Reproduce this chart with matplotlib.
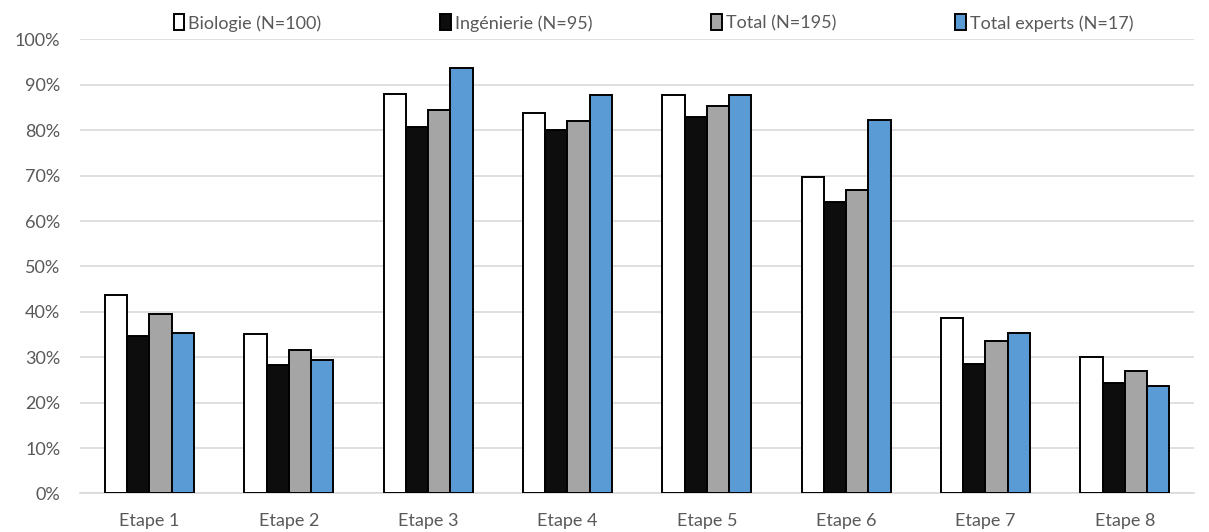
import numpy as np
import matplotlib.pyplot as plt
from matplotlib.patches import Patch
from matplotlib.ticker import PercentFormatter

plt.rcParams['font.family'] = ['Lato', 'DejaVu Sans']

# data
etapes = ['Etape 1', 'Etape 2', 'Etape 3', 'Etape 4', 'Etape 5', 'Etape 6', 'Etape 7', 'Etape 8']
biologie = [43.8, 35.1, 87.9, 83.7, 87.8, 69.8, 38.7, 30.0]
ingenierie = [34.7, 28.3, 80.8, 80.0, 82.9, 64.1, 28.5, 24.3]
total = [39.6, 31.6, 84.5, 82.0, 85.4, 66.9, 33.6, 27.0]
experts = [35.4, 29.5, 93.7, 87.8, 87.8, 82.3, 35.3, 23.7]

series_labels = ['Biologie (N=100)', 'Ingénierie (N=95)', 'Total (N=195)', 'Total experts (N=17)']
series_colors = ['#ffffff', '#0d0d0d', '#a5a5a5', '#5b9bd5']

fig = plt.figure(figsize=(12.09, 5.32), dpi=100)
ax = fig.add_axes([0.066, 0.0724, 0.922, 0.8534])

x = np.arange(len(etapes))
w = 0.16
for i, (vals, col) in enumerate(zip([biologie, ingenierie, total, experts], series_colors)):
    ax.bar(x + (i - 1.5) * w, vals, width=w, color=col, edgecolor='black',
           linewidth=1.4, zorder=3)

ax.set_xlim(-0.5, len(etapes) - 0.5)
ax.set_ylim(0, 100)
ax.set_yticks(np.arange(0, 101, 10))
ax.yaxis.set_major_formatter(PercentFormatter(decimals=0))
ax.set_xticks(x)
ax.set_xticklabels(etapes)
ax.tick_params(length=0, labelsize=13, colors='#595959')
ax.tick_params(axis='x', pad=14)
ax.tick_params(axis='y', pad=14)
ax.grid(axis='y', color='#d9d9d9', linewidth=1.2, zorder=0)
for s in ['left', 'right', 'top']:
    ax.spines[s].set_visible(False)
ax.spines['bottom'].set_color('#d9d9d9')
ax.spines['bottom'].set_linewidth(1.2)

handles = [Patch(facecolor=c, edgecolor='black', linewidth=1.4) for c in series_colors]
leg = fig.legend(handles, series_labels, loc='center', bbox_to_anchor=(0.5405, 0.957),
                 ncol=4, frameon=False, handlelength=0.6, handleheight=1.0,
                 handletextpad=0.2, columnspacing=6.6,
                 prop={'size': 13})
for t in leg.get_texts():
    t.set_color('#595959')

fig.savefig('out.png', dpi=100)
